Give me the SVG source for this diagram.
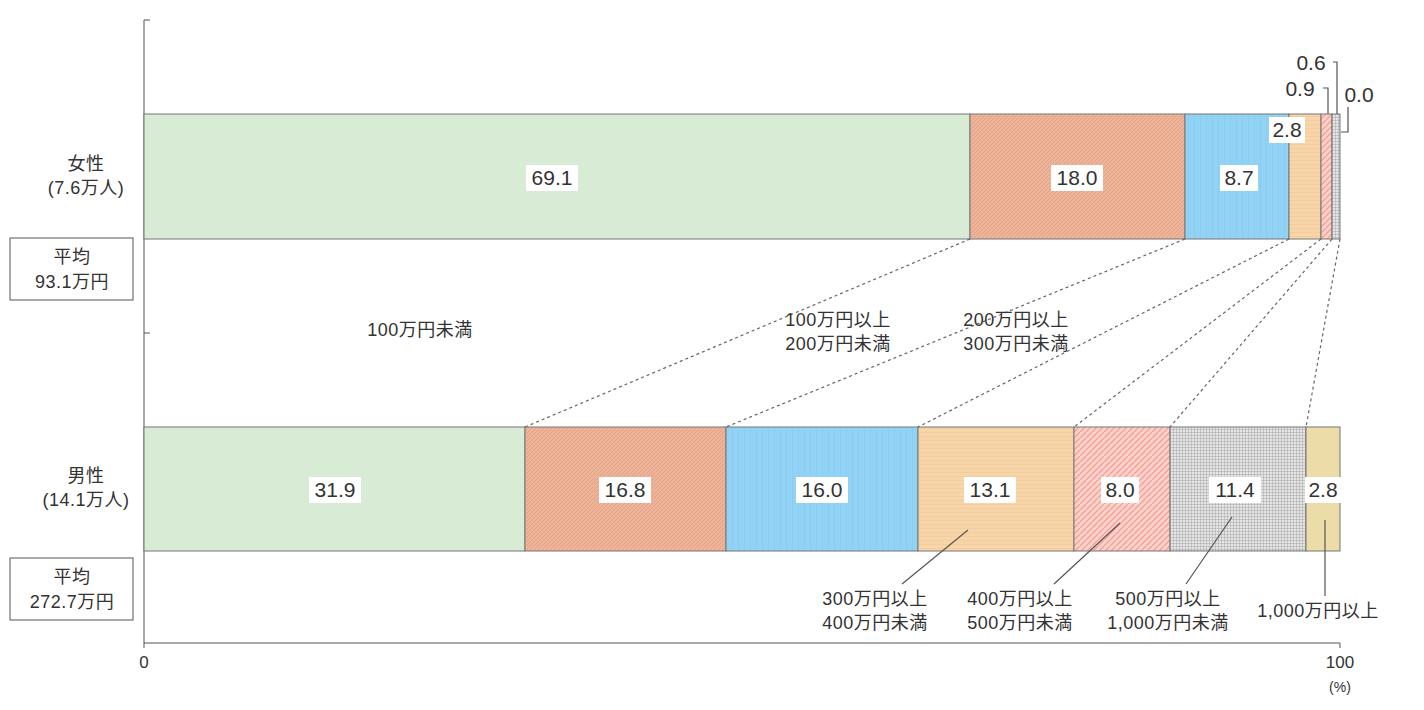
<svg xmlns="http://www.w3.org/2000/svg" width="1424" height="710" viewBox="0 0 1424 710">
<style>
text{font-family:"Liberation Sans","Noto Sans CJK JP",sans-serif;fill:#333;}
.l{font-size:18px;text-anchor:middle;letter-spacing:0.5px}
.v{font-size:21px;text-anchor:middle}
.seg{stroke:#777;stroke-width:1}
.ax{stroke:#555;stroke-width:1;fill:none}
.d{stroke:#666;stroke-width:1.2;stroke-dasharray:3,3;fill:none}
.ld{stroke:#555;stroke-width:1.2;fill:none}
.lb{fill:#fff}
</style>
<defs>
<pattern id="pS" width="4" height="4" patternUnits="userSpaceOnUse"><rect width="4" height="4" fill="#eeb49a"/><path d="M0 4L4 0" stroke="#e09c80" stroke-width="0.8"/></pattern>
<pattern id="pB" width="6" height="4" patternUnits="userSpaceOnUse"><rect width="6" height="4" fill="#92d2f5"/><path d="M0 0V4" stroke="#7cc6ef" stroke-width="0.8"/></pattern>
<pattern id="pP" width="4" height="4" patternUnits="userSpaceOnUse"><rect width="4" height="4" fill="#f7d5a8"/><path d="M0 0H4" stroke="#ecc48f" stroke-width="0.8"/></pattern>
<pattern id="pR" width="6" height="6" patternUnits="userSpaceOnUse"><rect width="6" height="6" fill="#fbd0c8"/><path d="M0 6L6 0" stroke="#f09a90" stroke-width="1.2"/></pattern>
<pattern id="pG" width="3" height="3" patternUnits="userSpaceOnUse"><rect width="3" height="3" fill="#e4e4e4"/><path d="M0 0H3M0 0V3" stroke="#999" stroke-width="0.8"/></pattern>
</defs>
<g id="axes">
<path class="ax" d="M144 20V643H1340M144 20H150M144 333H150M144 643V648M1340 643V648"/>
<text x="144" y="668" font-size="17" text-anchor="middle">0</text>
<text x="1340" y="668" font-size="17" text-anchor="middle">100</text>
<text x="1340" y="692" font-size="14" text-anchor="middle">(%)</text>
</g>
<g id="female">
<rect class="seg" x="144" y="114" width="826" height="125" fill="#d8ecd5"/>
<rect class="seg" x="970" y="114" width="215" height="125" fill="url(#pS)"/>
<rect class="seg" x="1185" y="114" width="104" height="125" fill="url(#pB)"/>
<rect class="seg" x="1289" y="114" width="32" height="125" fill="url(#pP)"/>
<rect class="seg" x="1321" y="114" width="11" height="125" fill="url(#pR)"/>
<rect class="seg" x="1332" y="114" width="8" height="125" fill="url(#pG)"/>
<rect class="lb" x="526" y="165" width="52" height="26"/><text class="v" x="552" y="185">69.1</text>
<rect class="lb" x="1051" y="165" width="52" height="26"/><text class="v" x="1077" y="185">18.0</text>
<rect class="lb" x="1220" y="165" width="38" height="26"/><text class="v" x="1239" y="185">8.7</text>
<rect class="lb" x="1269" y="117" width="36" height="26"/><text class="v" x="1287" y="137">2.8</text>
<text class="v" x="1300" y="96">0.9</text>
<text class="v" x="1311" y="70">0.6</text>
<text class="v" x="1359" y="102">0.0</text>
<path class="ld" d="M1323 88H1328V114M1333 62H1337V114M1348 107V132H1341"/>
<text class="l" x="86" y="170">女性</text>
<text class="l" x="86" y="194">(7.6万人)</text>
<rect x="10" y="238" width="123" height="62" fill="#fff" stroke="#555"/>
<text class="l" x="72" y="263">平均</text>
<text class="l" x="72" y="288">93.1万円</text>
</g>
<g id="male">
<rect class="seg" x="144" y="427" width="381" height="124" fill="#d8ecd5"/>
<rect class="seg" x="525" y="427" width="201" height="124" fill="url(#pS)"/>
<rect class="seg" x="726" y="427" width="192" height="124" fill="url(#pB)"/>
<rect class="seg" x="918" y="427" width="156" height="124" fill="url(#pP)"/>
<rect class="seg" x="1074" y="427" width="96" height="124" fill="url(#pR)"/>
<rect class="seg" x="1170" y="427" width="136" height="124" fill="url(#pG)"/>
<rect class="seg" x="1306" y="427" width="34" height="124" fill="#ecdca8"/>
<rect class="lb" x="309" y="477" width="52" height="26"/><text class="v" x="335" y="497">31.9</text>
<rect class="lb" x="599" y="477" width="52" height="26"/><text class="v" x="625" y="497">16.8</text>
<rect class="lb" x="796" y="477" width="52" height="26"/><text class="v" x="822" y="497">16.0</text>
<rect class="lb" x="964" y="477" width="52" height="26"/><text class="v" x="990" y="497">13.1</text>
<rect class="lb" x="1101" y="477" width="38" height="26"/><text class="v" x="1120" y="497">8.0</text>
<rect class="lb" x="1209" y="477" width="52" height="26"/><text class="v" x="1235" y="497">11.4</text>
<rect class="lb" x="1305" y="477" width="36" height="26"/><text class="v" x="1323" y="497">2.8</text>
<text class="l" x="86" y="482">男性</text>
<text class="l" x="86" y="506">(14.1万人)</text>
<rect x="10" y="558" width="123" height="62" fill="#fff" stroke="#555"/>
<text class="l" x="72" y="583">平均</text>
<text class="l" x="72" y="608">272.7万円</text>
</g>
<g id="connectors">
<path class="d" d="M970 239L525 427M1185 239L726 427M1289 239L918 427M1321 239L1074 427M1332 239L1170 427M1340 239L1306 427"/>
<path class="ld" d="M968 530L902 584M1120 523L1054 584M1232 517L1186 584M1325 520V596"/>
</g>
<g id="labels">
<text class="l" x="420" y="336">100万円未満</text>
<text class="l" x="838" y="326">100万円以上</text><text class="l" x="838" y="350">200万円未満</text>
<text class="l" x="1016" y="326">200万円以上</text><text class="l" x="1016" y="350">300万円未満</text>
<text class="l" x="875" y="605">300万円以上</text><text class="l" x="875" y="629">400万円未満</text>
<text class="l" x="1020" y="605">400万円以上</text><text class="l" x="1020" y="629">500万円未満</text>
<text class="l" x="1168" y="605">500万円以上</text><text class="l" x="1168" y="629">1,000万円未満</text>
<text class="l" x="1318" y="617">1,000万円以上</text>
</g>
</svg>
